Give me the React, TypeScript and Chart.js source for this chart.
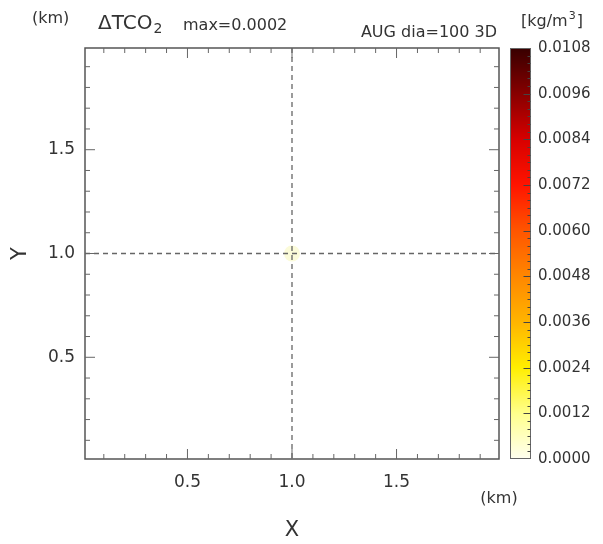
import React, { useEffect, useRef } from 'react';
import { Chart, registerables } from 'chart.js';

Chart.register(...registerables);

// ---- data ----
const xMin = 0.01;
const xMax = 1.99;
const yMin = 0.01;
const yMax = 1.99;
const xTickValues = [0.5, 1.0, 1.5];
const yTickValues = [0.5, 1.0, 1.5];
const minorTickValues = [0.1, 0.2, 0.3, 0.4, 0.5, 0.6, 0.7, 0.8, 0.9, 1.0, 1.1, 1.2, 1.3, 1.4, 1.5, 1.6, 1.7, 1.8, 1.9];
const cbMin = 0;
const cbMax = 0.0108;
const cbTickValues = [0, 0.0012, 0.0024, 0.0036, 0.0048, 0.006, 0.0072, 0.0084, 0.0096, 0.0108];
const cbStopValues = [0, 0.0012, 0.0024, 0.0036, 0.0048, 0.006, 0.0072, 0.0084, 0.0096, 0.0108];
const cbStopColors = [
  [255, 255, 240],
  [255, 255, 140],
  [255, 238, 0],
  [255, 180, 0],
  [255, 135, 0],
  [255, 85, 0],
  [255, 20, 0],
  [215, 0, 0],
  [135, 0, 0],
  [55, 0, 0],
];
const sourceX = [1.0];
const sourceY = [1.0];
const sourceValue = [0.0002];
const refLineX = 1.0;
const refLineY = 1.0;
const titleMain = 'ΔTCO';
const titleSub = '2';
const titleMax = 'max=0.0002';
const titleRight = 'AUG dia=100 3D';
const unitLabel = '[kg/m';
const FONT = '"DejaVu Sans", sans-serif';

function cbColor(v: number): string {
  if (v <= cbStopValues[0]) return `rgb(${cbStopColors[0].join(',')})`;
  for (let i = 1; i < cbStopValues.length; i++) {
    if (v <= cbStopValues[i]) {
      const t = (v - cbStopValues[i - 1]) / (cbStopValues[i] - cbStopValues[i - 1]);
      const a = cbStopColors[i - 1];
      const b = cbStopColors[i];
      const c = a.map((ai, k) => Math.round(ai + (b[k] - ai) * t));
      return `rgb(${c.join(',')})`;
    }
  }
  return `rgb(${cbStopColors[cbStopColors.length - 1].join(',')})`;
}

const decorPlugin = {
  id: 'decor',
  afterDatasetsDraw(chart: any) {
    const { ctx, chartArea } = chart;
    const xs = chart.scales.x;
    const ys = chart.scales.y;
    ctx.save();
    ctx.strokeStyle = '#666';
    ctx.lineWidth = 1.3;
    ctx.setLineDash([5, 4]);
    const px = xs.getPixelForValue(refLineX);
    const py = ys.getPixelForValue(refLineY);
    ctx.beginPath();
    ctx.moveTo(px, chartArea.top);
    ctx.lineTo(px, chartArea.bottom);
    ctx.moveTo(chartArea.left, py);
    ctx.lineTo(chartArea.right, py);
    ctx.stroke();
    ctx.restore();
  },
  afterDraw(chart: any) {
    const { ctx, chartArea } = chart;
    const xs = chart.scales.x;
    const ys = chart.scales.y;
    const cb = chart.scales.cb;
    const { left, right, top, bottom } = chartArea;
    ctx.save();
    // frame
    ctx.strokeStyle = '#555';
    ctx.lineWidth = 1.5;
    ctx.strokeRect(left, top, right - left, bottom - top);
    // ticks
    ctx.lineWidth = 1;
    ctx.strokeStyle = '#666';
    ctx.beginPath();
    for (const v of minorTickValues) {
      const major = xTickValues.some((m) => Math.abs(m - v) < 1e-9);
      const len = major ? 10 : 5;
      const x = xs.getPixelForValue(v);
      ctx.moveTo(x, bottom);
      ctx.lineTo(x, bottom - len);
      ctx.moveTo(x, top);
      ctx.lineTo(x, top + len);
      const y = ys.getPixelForValue(v);
      ctx.moveTo(left, y);
      ctx.lineTo(left + len, y);
      ctx.moveTo(right, y);
      ctx.lineTo(right - len, y);
    }
    ctx.stroke();

    // colorbar
    const bx0 = cb.left + 11;
    const bx1 = cb.left + 32;
    const cTop = cb.getPixelForValue(cbMax);
    const cBot = cb.getPixelForValue(cbMin);
    for (let y = Math.floor(cTop); y < Math.ceil(cBot); y++) {
      const v = cb.getValueForPixel(y + 0.5);
      ctx.fillStyle = cbColor(Math.max(cbMin, Math.min(cbMax, v)));
      ctx.fillRect(bx0, y, bx1 - bx0, 1);
    }
    ctx.strokeStyle = '#666';
    ctx.lineWidth = 1;
    ctx.strokeRect(bx0 + 0.5, cTop + 0.5, bx1 - bx0 - 1, cBot - cTop - 1);
    ctx.beginPath();
    ctx.strokeStyle = '#444';
    const nMinor = Math.round((cbMax - cbMin) / 0.0002);
    for (let i = 1; i < nMinor; i++) {
      const v = cbMin + i * 0.0002;
      const major = i % 6 === 0;
      const y = Math.round(cb.getPixelForValue(v)) + 0.5;
      ctx.moveTo(bx1 - 0.5, y);
      ctx.lineTo(bx1 - 0.5 - (major ? 7 : 3), y);
    }
    ctx.stroke();

    // texts
    ctx.fillStyle = '#333';
    ctx.textBaseline = 'alphabetic';
    ctx.textAlign = 'left';
    ctx.font = `16px ${FONT}`;
    ctx.fillText('(km)', 32, 23);
    ctx.font = `20px ${FONT}`;
    ctx.fillText(titleMain, 98, 29);
    const wMain = ctx.measureText(titleMain).width;
    ctx.font = `14px ${FONT}`;
    ctx.fillText(titleSub, 98 + wMain + 1, 33);
    ctx.font = `16px ${FONT}`;
    ctx.fillText(titleMax, 183, 30);
    ctx.textAlign = 'right';
    ctx.fillText(titleRight, 497, 37);
    ctx.textAlign = 'left';
    ctx.fillText(unitLabel, 521, 26);
    const wu = ctx.measureText(unitLabel).width;
    ctx.font = `11px ${FONT}`;
    ctx.fillText('3', 521 + wu + 1, 19);
    ctx.font = `16px ${FONT}`;
    ctx.fillText(']', 521 + wu + 9, 26);
    ctx.textAlign = 'center';
    ctx.fillText('(km)', 499, 503);
    ctx.font = `21px ${FONT}`;
    ctx.textBaseline = 'middle';
    ctx.fillText('X', xs.getPixelForValue(1.0), 531);
    ctx.save();
    ctx.translate(21, ys.getPixelForValue(1.0));
    ctx.rotate(-Math.PI / 2);
    ctx.fillText('Y', 0, 0);
    ctx.restore();
    ctx.restore();
  },
};

export default function App() {
  const ref = useRef<HTMLCanvasElement>(null);
  useEffect(() => {
    document.body.style.margin = '0';
    document.body.style.overflow = 'hidden';
    const canvas = ref.current!;
    const chart = new Chart(canvas, {
      type: 'scatter',
      data: {
        datasets: [
          {
            data: sourceX.map((x, i) => ({ x, y: sourceY[i] })),
            pointRadius: 8,
            pointBorderWidth: 0,
            backgroundColor: sourceValue.map(() => 'rgba(248,248,185,0.55)'),
            borderColor: 'rgba(0,0,0,0)',
          },
        ],
      },
      options: {
        responsive: false,
        animation: false,
        devicePixelRatio: 1,
        layout: { padding: { top: 46, left: 0, right: 0, bottom: 0 } },
        plugins: {
          legend: { display: false },
          tooltip: { enabled: false },
          title: { display: false },
        },
        scales: {
          x: {
            type: 'linear',
            position: 'bottom',
            min: xMin,
            max: xMax,
            afterBuildTicks: (s: any) => {
              s.ticks = xTickValues.map((v) => ({ value: v }));
            },
            afterFit: (s: any) => {
              s.height = 85;
            },
            grid: { display: false, drawTicks: false },
            border: { display: false },
            ticks: {
              padding: 13,
              color: '#333',
              font: { family: FONT, size: 17 },
              maxRotation: 0,
              minRotation: 0,
              autoSkip: false,
              callback: (v: any) => Number(v).toFixed(1),
            },
          },
          y: {
            type: 'linear',
            position: 'left',
            min: yMin,
            max: yMax,
            afterBuildTicks: (s: any) => {
              s.ticks = yTickValues.map((v) => ({ value: v }));
            },
            afterFit: (s: any) => {
              s.width = 85;
            },
            grid: { display: false, drawTicks: false },
            border: { display: false },
            ticks: {
              padding: 10,
              color: '#333',
              font: { family: FONT, size: 17 },
              autoSkip: false,
              callback: (v: any) => Number(v).toFixed(1),
            },
          },
          cb: {
            type: 'linear',
            position: 'right',
            min: cbMin,
            max: cbMax,
            afterBuildTicks: (s: any) => {
              s.ticks = cbTickValues.map((v) => ({ value: v }));
            },
            afterFit: (s: any) => {
              s.width = 104;
            },
            grid: { display: false, drawTicks: false },
            border: { display: false },
            ticks: {
              padding: 39,
              color: '#333',
              font: { family: FONT, size: 15 },
              autoSkip: false,
              callback: (v: any) => Number(v).toFixed(4),
            },
          },
        },
      } as any,
      plugins: [decorPlugin],
    });
    return () => chart.destroy();
  }, []);
  return (
    <div style={{ width: 603, height: 544, background: '#fff' }}>
      <canvas ref={ref} width={603} height={544} style={{ display: 'block' }} />
    </div>
  );
}
